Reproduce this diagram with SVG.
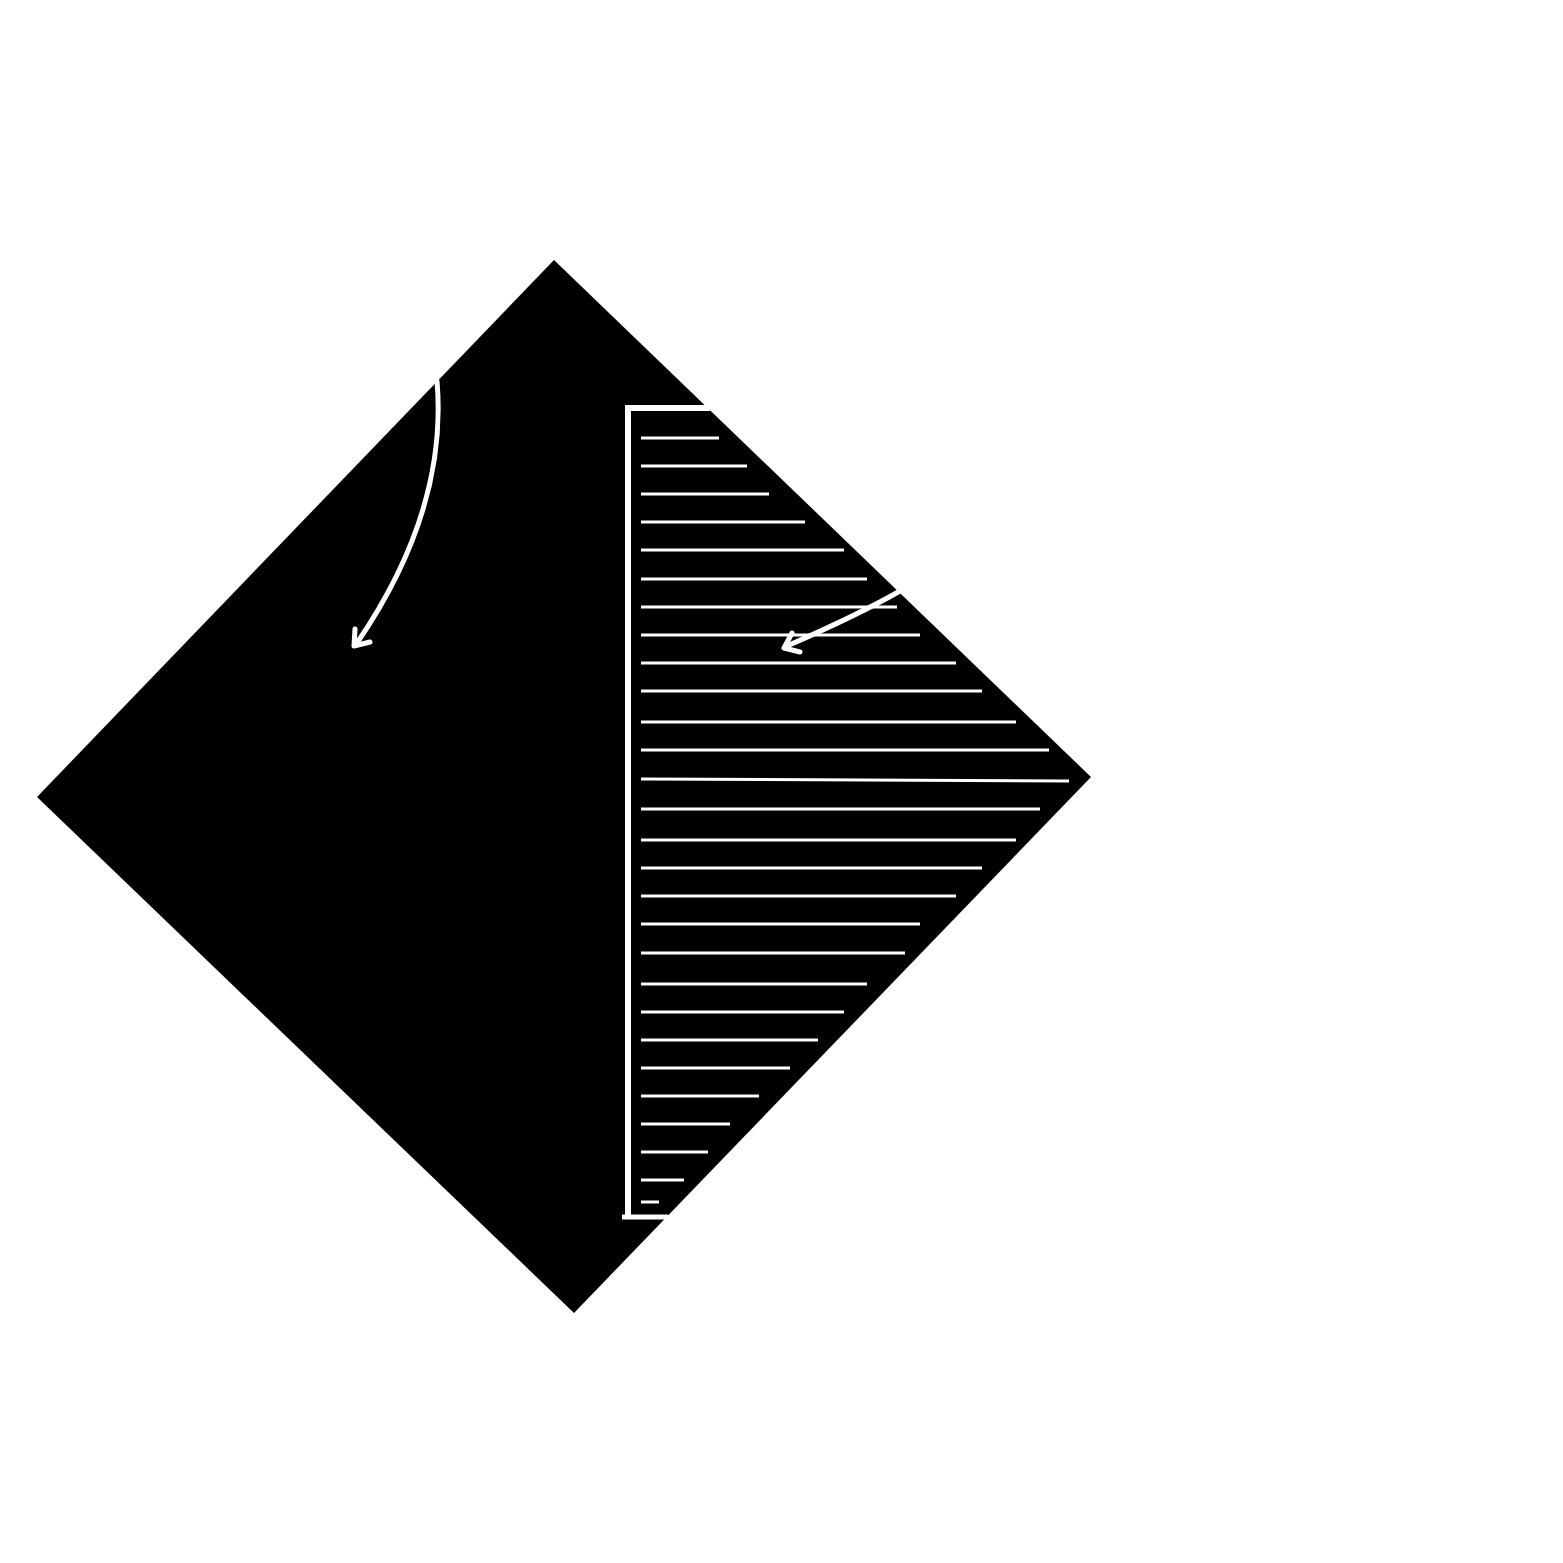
<svg xmlns="http://www.w3.org/2000/svg" width="1563" height="1563" viewBox="0 0 1563 1563">
<style>
.w{stroke:#fff;stroke-width:3;fill:none}
.f{stroke:#fff;stroke-width:6;fill:none}
.a{stroke:#fff;stroke-width:5;fill:none;stroke-linecap:round;stroke-linejoin:round}
</style>
<rect width="1563" height="1563" fill="#fff"/>
<g id="diamond"><polygon points="554,260 1091,777 574,1313 37,797" fill="#000"/></g>
<g id="frame">
<polyline class="f" points="710,408 628,408 628,1217"/>
<line class="f" x1="622" y1="1217" x2="668" y2="1217" style="stroke-width:5"/>
</g>
<g id="lines" class="w">
<line x1="641" y1="438" x2="719" y2="438"/>
<line x1="641" y1="466" x2="747" y2="466"/>
<line x1="641" y1="494" x2="769" y2="494"/>
<line x1="641" y1="522" x2="805" y2="522"/>
<line x1="641" y1="550" x2="844" y2="550"/>
<line x1="641" y1="579" x2="867" y2="579"/>
<line x1="641" y1="607" x2="897" y2="607"/>
<line x1="641" y1="635" x2="920" y2="635"/>
<line x1="641" y1="663" x2="956" y2="663"/>
<line x1="641" y1="691" x2="982" y2="691"/>
<line x1="641" y1="722" x2="1016" y2="722"/>
<line x1="641" y1="750" x2="1049" y2="750"/>
<line x1="641" y1="779" x2="1069" y2="781"/>
<line x1="641" y1="809" x2="1040" y2="809"/>
<line x1="641" y1="840" x2="1016" y2="840"/>
<line x1="641" y1="868" x2="982" y2="868"/>
<line x1="641" y1="896" x2="956" y2="896"/>
<line x1="641" y1="924" x2="920" y2="924"/>
<line x1="641" y1="953" x2="905" y2="953"/>
<line x1="641" y1="984" x2="867" y2="984"/>
<line x1="641" y1="1012" x2="844" y2="1012"/>
<line x1="641" y1="1040" x2="818" y2="1040"/>
<line x1="641" y1="1068" x2="790" y2="1068"/>
<line x1="641" y1="1096" x2="759" y2="1096"/>
<line x1="641" y1="1124" x2="730" y2="1124"/>
<line x1="641" y1="1152" x2="708" y2="1152"/>
<line x1="641" y1="1180" x2="684" y2="1180"/>
<line x1="641" y1="1202" x2="659" y2="1202"/>
</g>
<g id="connectors">
<path class="a" d="M437,381 Q448,510 357,643"/>
<polyline class="a" points="355,629 354,646 370,642"/>
<path class="a" d="M900,591 Q860,614 787,646"/>
<polyline class="a" points="792,633 784,648 800,652"/>
</g>
</svg>
